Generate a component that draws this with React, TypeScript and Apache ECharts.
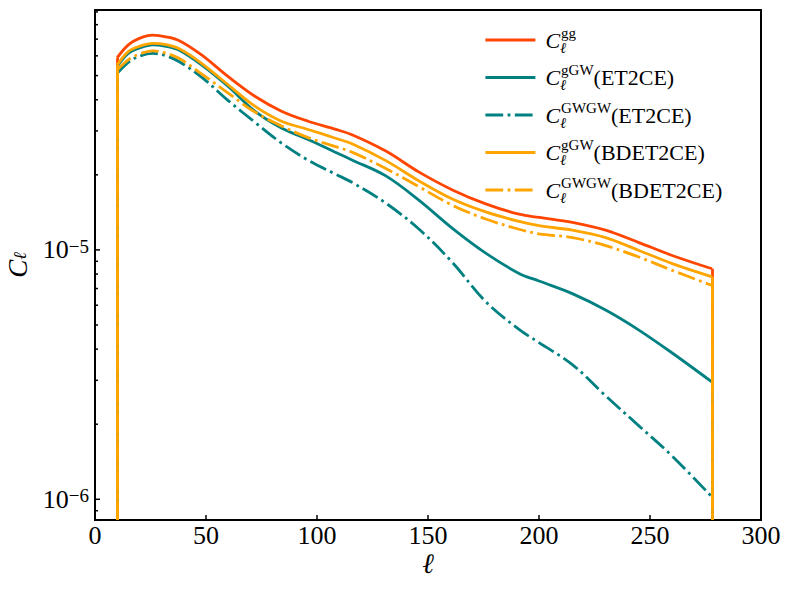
import React, { useEffect, useRef } from "react";
import * as echarts from "echarts";

// multipole ell
const ELL = [10, 15, 20, 26, 32, 38, 48, 60, 72, 84, 96, 108, 116, 131, 146, 161, 176, 191, 200, 215, 230, 245, 260, 278];

const CL_GG = [5.9e-5, 6.64e-5, 7.05e-5, 7.26e-5, 7.15e-5, 6.9e-5, 6.05e-5, 4.95e-5, 4.13e-5, 3.6e-5, 3.28e-5, 3.05e-5, 2.89e-5, 2.49e-5, 2.05e-5, 1.74e-5, 1.53e-5, 1.39e-5, 1.35e-5, 1.29e-5, 1.2e-5, 1.07e-5, 9.5e-6, 8.4e-6];
const CL_GGW_ET = [5.45e-5, 6.14e-5, 6.45e-5, 6.64e-5, 6.55e-5, 6.32e-5, 5.52e-5, 4.52e-5, 3.6e-5, 3.08e-5, 2.77e-5, 2.47e-5, 2.29e-5, 1.98e-5, 1.58e-5, 1.22e-5, 9.7e-6, 8.05e-6, 7.5e-6, 6.68e-6, 5.74e-6, 4.77e-6, 3.86e-6, 2.95e-6];
const CL_GWGW_ET = [5.1e-5, 5.65e-5, 5.98e-5, 6.14e-5, 6.0e-5, 5.68e-5, 4.93e-5, 3.97e-5, 3.25e-5, 2.68e-5, 2.29e-5, 2.02e-5, 1.86e-5, 1.54e-5, 1.21e-5, 8.9e-6, 6.2e-6, 4.8e-6, 4.25e-6, 3.47e-6, 2.6e-6, 1.97e-6, 1.49e-6, 1.02e-6];
const CL_GGW_BD = [5.52e-5, 6.24e-5, 6.55e-5, 6.73e-5, 6.65e-5, 6.4e-5, 5.6e-5, 4.59e-5, 3.77e-5, 3.28e-5, 3.04e-5, 2.81e-5, 2.66e-5, 2.28e-5, 1.89e-5, 1.6e-5, 1.42e-5, 1.3e-5, 1.25e-5, 1.2e-5, 1.12e-5, 9.95e-6, 8.81e-6, 7.8e-6];
const CL_GWGW_BD = [5.27e-5, 5.78e-5, 6.1e-5, 6.28e-5, 6.15e-5, 5.85e-5, 5.08e-5, 4.25e-5, 3.57e-5, 3.14e-5, 2.82e-5, 2.6e-5, 2.46e-5, 2.12e-5, 1.79e-5, 1.51e-5, 1.33e-5, 1.21e-5, 1.16e-5, 1.12e-5, 1.04e-5, 9.36e-6, 8.28e-6, 7.2e-6];

// y-axis range (log axis) and ticks
const Y_MIN = 8.26e-7;
const Y_MAX = 9.16e-5;
const Y_MAJOR_TICKS = [1e-6, 1e-5];
const Y_MINOR_TICKS = [9e-7, 2e-6, 3e-6, 4e-6, 5e-6, 6e-6, 7e-6, 8e-6, 9e-6, 2e-5, 3e-5, 4e-5, 5e-5, 6e-5, 7e-5, 8e-5, 9e-5];
const X_TICKS = [0, 50, 100, 150, 200, 250, 300];

const LEGEND_ITEMS = [
  { name: "C_ℓ^gg", sup: "gg", tail: "" },
  { name: "C_ℓ^gGW(ET2CE)", sup: "gGW", tail: "(ET2CE)" },
  { name: "C_ℓ^GWGW(ET2CE)", sup: "GWGW", tail: "(ET2CE)" },
  { name: "C_ℓ^gGW(BDET2CE)", sup: "gGW", tail: "(BDET2CE)" },
  { name: "C_ℓ^GWGW(BDET2CE)", sup: "GWGW", tail: "(BDET2CE)" },
];

const FONT = '"Liberation Serif", "DejaVu Serif", serif';
const RED = "#ff4500";
const TEAL = "#008080";
const ORANGE = "#ffa500";
const LW = 2.8;
const DASHDOT = [17.8, 4.4, 2.8, 4.4];
const SERIES_COLORS = [RED, TEAL, TEAL, ORANGE, ORANGE];
const SERIES_DASHED = [false, false, true, false, true];

export default function App() {
  const ref = useRef<HTMLDivElement>(null);
  useEffect(() => {
    if (!ref.current) return;
    const chart = echarts.init(ref.current, null, { renderer: "svg" });

    const lineSeries = (idx: number, values: number[]) => {
      const style = {
        color: SERIES_COLORS[idx],
        width: LW,
        type: SERIES_DASHED[idx] ? DASHDOT : "solid",
        cap: "butt",
      };
      const x0 = ELL[0];
      const x1 = ELL[ELL.length - 1];
      return {
        type: "line",
        name: LEGEND_ITEMS[idx].name,
        data: ELL.map((x, i) => [x, values[i]]),
        showSymbol: false,
        symbol: "none",
        clip: true,
        smooth: 0.35,
        lineStyle: style,
        itemStyle: { color: SERIES_COLORS[idx] },
        z: 2 + idx,
        markLine: {
          silent: true,
          symbol: ["none", "none"],
          label: { show: false },
          emphasis: { disabled: true },
          lineStyle: style,
          data: [
            [{ coord: [x0, Y_MIN] }, { coord: [x0, values[0]] }],
            [{ coord: [x1, values[values.length - 1]] }, { coord: [x1, Y_MIN] }],
          ],
        },
      };
    };

    const tickData = [
      ...Y_MAJOR_TICKS.map((v) => [0, v, 5]),
      ...Y_MINOR_TICKS.map((v) => [0, v, 3]),
    ];

    const option: any = {
      animation: false,
      backgroundColor: "#fff",
      grid: {
        left: 95,
        right: 29,
        top: 10,
        bottom: 70,
        show: true,
        borderColor: "#000",
        borderWidth: 2,
        backgroundColor: "transparent",
        outerBoundsMode: "none",
        containLabel: false,
      },
      legend: {
        orient: "vertical",
        left: 479,
        top: 20,
        itemWidth: 50,
        itemHeight: 14,
        itemGap: 7.5,
        itemStyle: { opacity: 0 },
        data: LEGEND_ITEMS.map((l, i) => ({
          name: l.name,
          itemStyle: { opacity: 0 },
          lineStyle: {
            color: SERIES_COLORS[i],
            width: LW,
            type: SERIES_DASHED[i] ? DASHDOT : "solid",
          },
        })),
        formatter: (name: string) => {
          const it = LEGEND_ITEMS.find((l) => l.name === name)!;
          return `{sp| }{c|C}{l|ℓ}{s|${it.sup}}` + (it.tail ? `{t|${it.tail}}` : "");
        },
        textStyle: {
          fontFamily: FONT,
          color: "#000",
          rich: {
            sp: { width: 5, fontSize: 10 },
            c: { fontSize: 22, fontStyle: "italic", fontFamily: FONT, lineHeight: 30, verticalAlign: "middle", color: "#000" },
            l: { fontSize: 15, fontStyle: "italic", fontFamily: FONT, width: 1, lineHeight: 15, verticalAlign: "bottom", color: "#000" },
            s: { fontSize: 15, fontFamily: FONT, lineHeight: 15, verticalAlign: "top", color: "#000" },
            t: { fontSize: 22, fontFamily: FONT, lineHeight: 30, verticalAlign: "middle", color: "#000" },
          },
        },
      },
      xAxis: {
        type: "value",
        min: X_TICKS[0],
        max: X_TICKS[X_TICKS.length - 1],
        interval: 50,
        name: "ℓ",
        nameLocation: "middle",
        nameGap: 29,
        nameMoveOverlap: false,
        nameTextStyle: { fontFamily: FONT, fontSize: 28, fontStyle: "italic", color: "#000", lineHeight: 28 },
        axisLine: { show: false },
        axisTick: { show: true, inside: true, length: 5, lineStyle: { color: "#000", width: 1.5 } },
        axisLabel: { fontFamily: FONT, fontSize: 26, color: "#000", margin: 2 },
        splitLine: { show: false },
      },
      yAxis: {
        type: "log",
        logBase: 10,
        min: Y_MIN,
        max: Y_MAX,
        name: "{c|C}{l|ℓ}",
        nameLocation: "middle",
        nameGap: 66,
        nameRotate: 90,
        nameMoveOverlap: false,
        nameTextStyle: {
          rich: {
            c: { fontFamily: FONT, fontSize: 27, fontStyle: "italic", color: "#000", lineHeight: 22, verticalAlign: "middle" },
            l: { fontFamily: FONT, fontSize: 18, fontStyle: "italic", color: "#000", lineHeight: 16, verticalAlign: "bottom" },
          },
        },
        axisLine: { show: false },
        axisTick: { show: false },
        splitLine: { show: false },
        axisLabel: {
          margin: 6,
          showMinLabel: false,
          showMaxLabel: false,
          formatter: (v: number) => {
            const lg = Math.log10(v);
            const e = Math.round(lg);
            if (Math.abs(lg - e) > 1e-6) return "";
            return `{b|10}{e|${e < 0 ? "\u2212" : ""}${Math.abs(e)}}`;
          },
          rich: {
            b: { fontFamily: FONT, fontSize: 26, color: "#000", lineHeight: 26, verticalAlign: "bottom" },
            e: { fontFamily: FONT, fontSize: 19, color: "#000", lineHeight: 19, verticalAlign: "top" },
          },
        },
      },
      series: [
        lineSeries(0, CL_GG),
        lineSeries(1, CL_GGW_ET),
        lineSeries(2, CL_GWGW_ET),
        lineSeries(3, CL_GGW_BD),
        lineSeries(4, CL_GWGW_BD),
        {
          type: "custom",
          name: "yticks",
          data: tickData,
          clip: false,
          z: 10,
          silent: true,
          renderItem: (params: any, api: any) => {
            const p = api.coord([api.value(0), api.value(1)]);
            const len = api.value(2);
            return {
              type: "line",
              shape: { x1: p[0], y1: p[1], x2: p[0] + len, y2: p[1] },
              style: { stroke: "#000", lineWidth: 1.5 },
            };
          },
        },
      ],
    };
    chart.setOption(option);
    return () => chart.dispose();
  }, []);
  return <div ref={ref} style={{ position: "fixed", left: 0, top: 0, width: 790, height: 590, background: "#fff" }} />;
}
